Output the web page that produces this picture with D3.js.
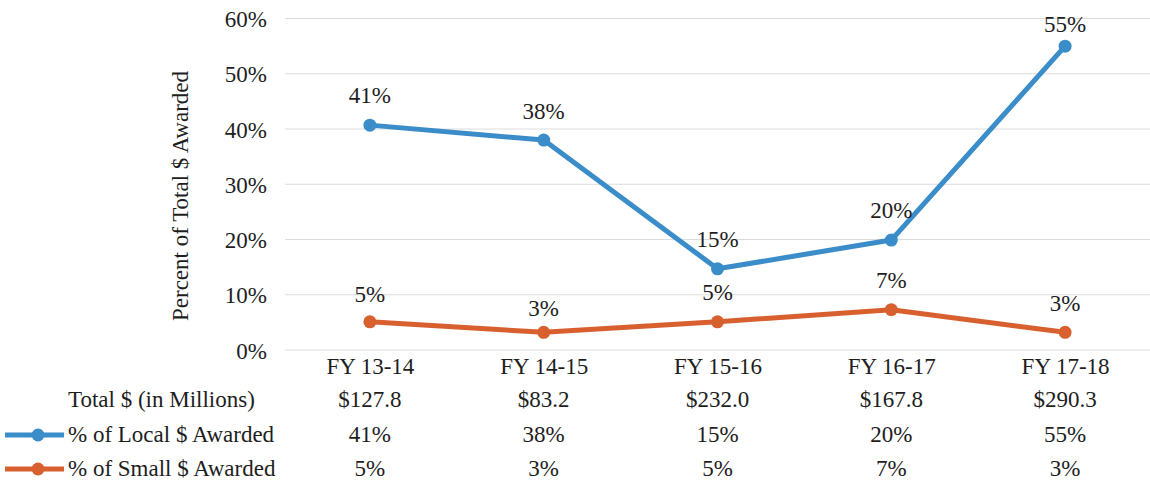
<!DOCTYPE html>
<html>
<head>
<meta charset="utf-8">
<script src="https://cdn.jsdelivr.net/npm/d3@7"></script>
<style>
  html, body { margin: 0; padding: 0; background: #ffffff; }
</style>
</head>
<body>
<svg id="chart" width="1150" height="482" font-family="Liberation Serif"></svg>
<script>
const categories = ["FY 13-14", "FY 14-15", "FY 15-16", "FY 16-17", "FY 17-18"];
const localPct = [40.7, 38.0, 14.7, 19.9, 55.0];
const smallPct = [5.1, 3.2, 5.1, 7.3, 3.2];
const totals = ["$127.8", "$83.2", "$232.0", "$167.8", "$290.3"];
const localLabels = ["41%", "38%", "15%", "20%", "55%"];
const smallLabels = ["5%", "3%", "5%", "7%", "3%"];
const yTicks = [0, 10, 20, 30, 40, 50, 60];
const rowNames = ["Total $ (in Millions)", "% of Local $ Awarded", "% of Small $ Awarded"];

const blue = "#3a8dc9";
const orange = "#d8602f";
const fs = 23;
const FONT = "Liberation Serif";
const TXT = "#1e1e1e";

const svg = d3.select("#chart");
const x = d3.scalePoint().domain(categories).range([283, 1152]).padding(0.5);
const y = d3.scaleLinear().domain([0, 60]).range([350, 18.5]);

function styleText(sel) {
  return sel.attr("font-family", FONT).style("font-family", "'Liberation Serif', 'DejaVu Serif', serif")
    .attr("font-size", fs).attr("fill", TXT);
}

// gridlines
svg.append("g").selectAll("line").data(yTicks).join("line")
  .attr("x1", 285).attr("x2", 1150)
  .attr("y1", d => y(d)).attr("y2", d => y(d))
  .attr("stroke", "#dcdcdc").attr("stroke-width", 1);

// y axis labels
const yAxis = d3.axisLeft(y).tickValues(yTicks).tickFormat(d => d + "%").tickSize(0).tickPadding(0);
const gy = svg.append("g").attr("transform", "translate(267,0)").call(yAxis);
gy.attr("font-family", FONT);
gy.select(".domain").remove();
styleText(gy.selectAll("text")).attr("dy", "0.35em");

// y title
styleText(svg.append("text")
  .attr("transform", "translate(188,196) rotate(-90)")
  .attr("text-anchor", "middle"))
  .text("Percent of Total $ Awarded");

// x axis labels
const xAxis = d3.axisBottom(x).tickSize(0).tickPadding(0);
const gx = svg.append("g").attr("transform", "translate(0,374)").call(xAxis);
gx.attr("font-family", FONT);
gx.select(".domain").remove();
styleText(gx.selectAll("text")).attr("dy", 0);

// lines
const line = d3.line().x((d, i) => x(categories[i])).y(d => y(d));
function series(vals, color, labels, offsets) {
  svg.append("path").datum(vals).attr("d", line)
    .attr("fill", "none").attr("stroke", color).attr("stroke-width", 5).attr("stroke-linejoin", "round");
  svg.append("g").selectAll("circle").data(vals).join("circle")
    .attr("cx", (d, i) => x(categories[i])).attr("cy", d => y(d)).attr("r", 6.5)
    .attr("fill", color);
  styleText(svg.append("g").selectAll("text").data(vals).join("text")
    .attr("x", (d, i) => x(categories[i]))
    .attr("y", (d, i) => Math.max(y(d) - offsets[i], 32))
    .attr("text-anchor", "middle"))
    .text((d, i) => labels[i]);
}
series(localPct, blue, localLabels, [22, 21, 22, 22, 22]);
series(smallPct, orange, smallLabels, [20, 16, 22, 22, 21]);

// data table
const rowY = [407, 442, 476];
const rows = [totals, localLabels, smallLabels];
rows.forEach((r, ri) => {
  styleText(svg.append("g").selectAll("text").data(r).join("text")
    .attr("x", (d, i) => x(categories[i])).attr("y", rowY[ri])
    .attr("text-anchor", "middle"))
    .text(d => d);
  styleText(svg.append("text").attr("x", 68).attr("y", rowY[ri])).text(rowNames[ri]);
});
// legend keys
[[blue, 1], [orange, 2]].forEach(([c, ri]) => {
  const cy = rowY[ri] - 7;
  svg.append("line").attr("x1", 5).attr("x2", 64).attr("y1", cy).attr("y2", cy)
    .attr("stroke", c).attr("stroke-width", 5);
  svg.append("circle").attr("cx", 38).attr("cy", cy).attr("r", 6.5).attr("fill", c);
});
</script>
</body>
</html>
